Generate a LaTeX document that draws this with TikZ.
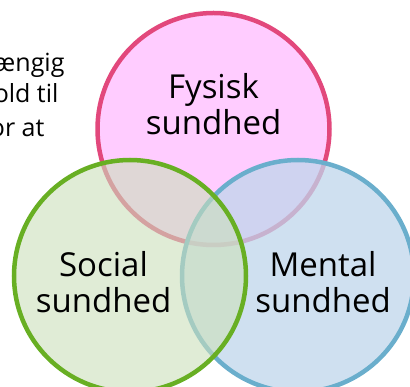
\documentclass[tikz,border=0pt]{standalone}
\usepackage{fontspec}
\setmainfont{Open Sans}
\definecolor{fysiskfill}{RGB}{255,204,255}
\definecolor{fysiskline}{RGB}{226,72,124}
\definecolor{socialfill}{RGB}{203,223,187}
\definecolor{socialline}{RGB}{104,175,35}
\definecolor{mentalfill}{RGB}{191,214,235}
\definecolor{mentalline}{RGB}{106,174,204}
\begin{document}
\begin{tikzpicture}[x=1pt,y=-1pt,
		ring/.style={circle, minimum size=232pt, inner sep=0pt, line width=4.5pt},
		sundtxt/.style={align=center, font=\fontsize{33}{36}\selectfont},
		sidetxt/.style={anchor=base east, font=\fontsize{25}{28}\selectfont}]
	\useasboundingbox (0,0) rectangle (410,387);

	% cut-off text on the left
	\node[sidetxt] (side1) at (68,72) {ængig};
	\node[sidetxt] (side2) at (62,103) {old til};
	\node[sidetxt] (side3) at (48,137) {or at};

	% the three circles
	\node[ring, draw=fysiskline, fill=fysiskfill] (fysisk) at (213.5,129) {};
	\node[ring, draw=mentalline, fill=mentalfill, fill opacity=0.75, draw opacity=1] (mental) at (298,276) {};
	\node[ring, draw=socialline, fill=socialfill, fill opacity=0.6, draw opacity=1] (social) at (130,276) {};

	% texts
	\node[sundtxt] (fysisktxt) at (213.5,104) {Fysisk\\sundhed};
	\node[sundtxt] (socialtxt) at (103.5,282.5) {Social\\sundhed};
	\node[sundtxt] (mentaltxt) at (323,282.5) {Mental\\sundhed};
\end{tikzpicture}
\end{document}
